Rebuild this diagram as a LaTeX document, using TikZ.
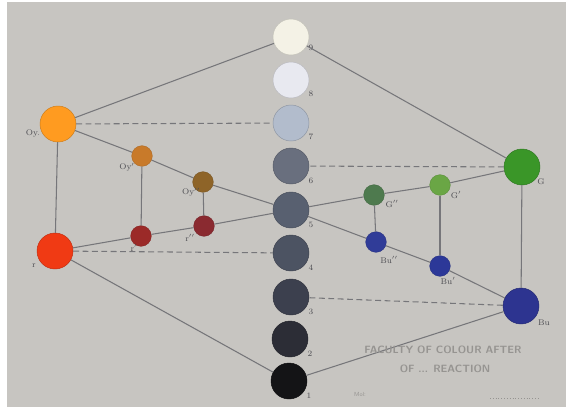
\documentclass[tikz,border=0pt]{standalone}
\usepackage{tikz}
\definecolor{papel}{RGB}{199,197,193}
\definecolor{trazo}{RGB}{118,118,122}
\definecolor{rotulo}{RGB}{75,75,80}
\definecolor{sello}{RGB}{150,148,145}
% Escala de grises
\definecolor{gris9}{RGB}{244,242,230}
\definecolor{gris8}{RGB}{232,233,240}
\definecolor{gris7}{RGB}{178,188,204}
\definecolor{gris6}{RGB}{105,111,126}
\definecolor{gris5}{RGB}{88,96,112}
\definecolor{gris4}{RGB}{76,83,98}
\definecolor{gris3}{RGB}{60,64,78}
\definecolor{gris2}{RGB}{44,45,54}
\definecolor{gris1}{RGB}{20,20,22}
% Colores
\definecolor{naranja}{RGB}{255,155,32}
\definecolor{rojo}{RGB}{240,58,20}
\definecolor{naranja1}{RGB}{200,122,42}
\definecolor{naranja2}{RGB}{142,100,40}
\definecolor{rojo1}{RGB}{155,42,40}
\definecolor{rojo2}{RGB}{138,42,48}
\definecolor{verde}{RGB}{58,150,40}
\definecolor{verde1}{RGB}{106,166,69}
\definecolor{verde2}{RGB}{78,122,78}
\definecolor{azul}{RGB}{45,52,144}
\definecolor{azul1}{RGB}{44,56,152}
\definecolor{azul2}{RGB}{48,60,152}

\begin{document}
\begin{tikzpicture}[x=0.03cm,y=-0.03cm,
    disco/.style={circle,inner sep=0pt,minimum size=1.08cm,draw=#1!80!black,fill=#1,line width=0.4pt},
    discochico/.style={circle,inner sep=0pt,minimum size=0.62cm,draw=#1!85!black,fill=#1,line width=0.3pt},
    linea/.style={draw=trazo,line width=0.9pt},
    trazos/.style={linea,dash pattern=on 5pt off 3pt},
    etiq/.style={font=\scriptsize,text=rotulo,inner sep=0pt}]
    \useasboundingbox (0,0) rectangle (572,412);
    \fill[white] (0,0) rectangle (572,412);
    \fill[papel] (7,2) rectangle (566,407);

    % Columna central
    \node[disco=gris9] (n9) at (291,37) {}; \node[etiq] (l9) at (311,48) {9};
    \node[disco=gris8] (n8) at (291,80) {}; \node[etiq] (l8) at (311,94) {8};
    \node[disco=gris7] (n7) at (291,123) {}; \node[etiq] (l7) at (311,137) {7};
    \node[disco=gris6] (n6) at (291,166) {}; \node[etiq] (l6) at (311,181) {6};
    \node[disco=gris5] (n5) at (291,210) {}; \node[etiq] (l5) at (311,225) {5};
    \node[disco=gris4] (n4) at (291,253) {}; \node[etiq] (l4) at (311,268) {4};
    \node[disco=gris3] (n3) at (291,297) {}; \node[etiq] (l3) at (311,312) {3};
    \node[disco=gris2] (n2) at (290,339) {}; \node[etiq] (l2) at (310,354) {2};
    \node[disco=gris1] (n1) at (289,381) {}; \node[etiq] (l1) at (309,396) {1};

    % Lado izquierdo
    \node[disco=naranja] (oy) at (58,124) {}; \node[etiq] (loy) at (33,133) {Oy.};
    \node[disco=rojo] (r) at (55,251) {}; \node[etiq] (lr) at (34,266) {r};
    \node[discochico=naranja1] (oy1) at (142,156) {}; \node[etiq] (loy1) at (127,167) {Oy$'$};
    \node[discochico=rojo1] (r1) at (141,236) {}; \node[etiq] (lr1) at (134,248) {r$'$};
    \node[discochico=naranja2] (oy2) at (203,182) {}; \node[etiq] (loy2) at (191,192) {Oy$''$};
    \node[discochico=rojo2] (r2) at (204,226) {}; \node[etiq] (lr2) at (190,238) {r$''$};

    % Lado derecho
    \node[disco=verde] (g) at (522,167) {}; \node[etiq] (lg) at (541,182) {G};
    \node[disco=azul] (bu) at (521,306) {}; \node[etiq] (lbu) at (544,323) {Bu};
    \node[discochico=verde2] (g2) at (374,195) {}; \node[etiq] (lg2) at (392,204) {G$''$};
    \node[discochico=verde1] (g1) at (440,185) {}; \node[etiq] (lg1) at (456,195) {G$'$};
    \node[discochico=azul2] (bu2) at (376,242) {}; \node[etiq] (lbu2) at (389,260) {Bu$''$};
    \node[discochico=azul1] (bu1) at (440,266) {}; \node[etiq] (lbu1) at (448,281) {Bu$'$};

    % Aristas
    \draw[linea] (n9) -- (oy);
    \draw[linea] (n9) -- (g);
    \draw[linea] (n1) -- (r);
    \draw[linea] (n1) -- (bu);
    \draw[linea] (oy) -- (r);
    \draw[linea] (g) -- (bu);
    \draw[linea] (oy) -- (oy1) -- (oy2) -- (n5) -- (bu2) -- (bu1) -- (bu);
    \draw[linea] (r) -- (r1) -- (r2) -- (n5) -- (g2) -- (g1) -- (g);
    \draw[linea] (oy1) -- (r1);
    \draw[linea] (oy2) -- (r2);
    \draw[linea] (g2) -- (bu2);
    \draw[linea] (g1) -- (bu1);

    % Trazos discontinuos
    \draw[trazos] (oy) -- (n7);
    \draw[trazos] (r) -- (n4);
    \draw[trazos] (g) -- (n6);
    \draw[trazos] (bu) -- (n3);

    % Sello
    \node[text=sello,font=\sffamily\bfseries\small,inner sep=0pt] (sello1) at (443,350) {FACULTY OF COLOUR AFTER};
    \node[text=sello,font=\sffamily\bfseries\small,inner sep=0pt] (sello2) at (445,369) {OF ... REACTION};
    \node[text=sello,font=\sffamily\tiny,inner sep=0pt] (sello3) at (360,394) {Mol:};
    \coordinate (p1) at (490,398);
    \coordinate (p2) at (540,398);
    \draw[sello,dotted] (p1) -- (p2);
\end{tikzpicture}
\end{document}
